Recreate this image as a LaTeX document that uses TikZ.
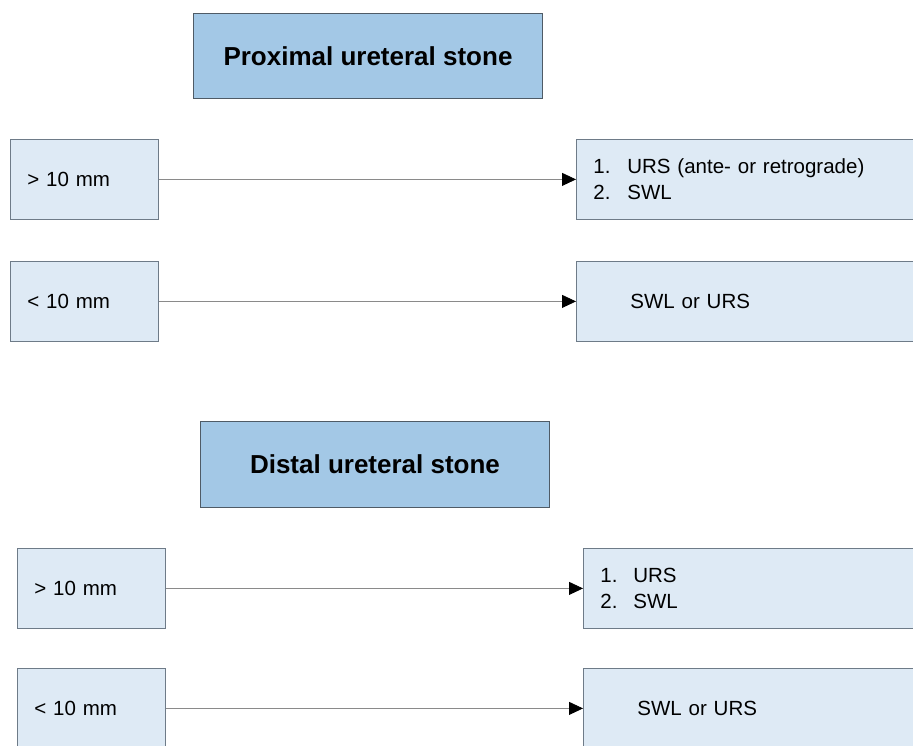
\documentclass[tikz,border=0pt]{standalone}
\usepackage{fontspec}
\setmainfont{Liberation Sans}
\usetikzlibrary{arrows.meta}
\definecolor{titlefill}{HTML}{A3C8E6}
\definecolor{boxfill}{HTML}{DEEAF5}
\definecolor{boxdraw}{HTML}{6E7B88}
\definecolor{titledraw}{HTML}{4F5B66}
\definecolor{linegray}{HTML}{8A8A8A}
\tikzset{
  titlebox/.style={draw=titledraw, fill=titlefill, line width=1pt, anchor=north west,
    minimum width=349pt, minimum height=85pt, inner sep=0pt,
    font=\fontsize{26}{30}\selectfont\bfseries},
  sizebox/.style={draw=boxdraw, fill=boxfill, line width=0.8pt, anchor=north west,
    minimum height=80pt, text width=114pt, inner xsep=17pt, inner ysep=0pt,
    align=left, font=\fontsize{20.5}{25.5}\selectfont},
  treatbox/.style={draw=boxdraw, fill=boxfill, line width=0.8pt, anchor=north west,
    minimum height=80pt, text width=326pt, inner xsep=17pt, inner ysep=0pt,
    align=left, font=\fontsize{20.5}{25.5}\selectfont},
  conn/.style={draw=linegray, line width=0.8pt, -{Triangle[length=14pt,width=13pt,color=black]}}
}
\newcommand{\itm}[2]{\makebox[#1][l]{#2}}
\begin{document}
\begin{tikzpicture}[x=1pt,y=-1pt]
\useasboundingbox (0,0) rectangle (913,745);
\clip (0,0) rectangle (913,745);
% proximal
\node[titlebox] (t1) at (193,13) {Proximal ureteral stone};
\node[sizebox] (l1) at (10,139) {> 10 mm};
\node[treatbox] (r1) at (576,139) {\itm{34pt}{1.}URS (ante- or retrograde)\\\itm{34pt}{2.}SWL};
\node[sizebox] (l2) at (10,261) {< 10 mm};
\node[treatbox] (r2) at (576,261) {\hspace*{37pt}SWL or URS};
\draw[conn] (l1) -- (r1);
\draw[conn] (l2) -- (r2);
% distal
\node[titlebox, minimum height=86pt] (t2) at (200,421) {Distal ureteral stone};
\node[sizebox] (l3) at (17,548) {> 10 mm};
\node[treatbox] (r3) at (583,548) {\itm{33pt}{1.}URS\\\itm{33pt}{2.}SWL};
\node[sizebox] (l4) at (17,668) {< 10 mm};
\node[treatbox] (r4) at (583,668) {\hspace*{37pt}SWL or URS};
\draw[conn] (l3) -- (r3);
\draw[conn] (l4) -- (r4);
\end{tikzpicture}
\end{document}
